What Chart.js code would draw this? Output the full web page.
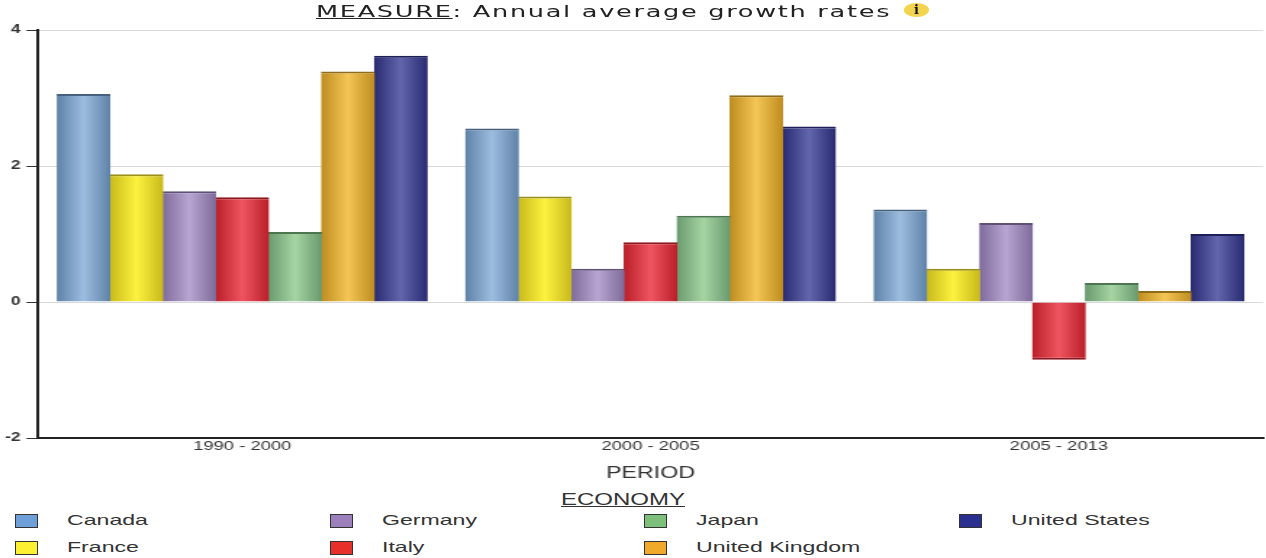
<!DOCTYPE html>
<html>
<head>
<meta charset="utf-8">
<title>Annual average growth rates</title>
<script src="https://cdn.jsdelivr.net/npm/chart.js@4"></script>
<style>
    html, body { margin: 0; background: #fff; overflow: hidden; }
    #page { position: relative; width: 1266px; height: 558px; }
    /* the chart is laid out narrow and widened, which gives the wide lettering */
    #chart { position: absolute; left: 0; top: 0; transform-origin: 0 0; }
    .wide { position: absolute; white-space: nowrap; color: #222; transform-origin: 0 0; }
    #title { left: 316px; top: 2px; font: 16px "DejaVu Sans"; letter-spacing: 1.06px; transform: scaleX(1.6); }
    #title u { text-decoration-thickness: 1px; }
    #info { left: 904px; top: 3px; width: 25px; height: 14px; border-radius: 50%; background: #f3d44f;
            font: bold 13px/14px "DejaVu Serif"; text-align: center; color: #111; }
    #legendTitle { left: 561px; top: 491px; font: 16px "Liberation Sans"; color: #333; transform: scaleX(1.5); text-decoration: underline; }
    #legend { position: absolute; left: 15px; top: 507px; display: grid; grid-auto-flow: column;
              grid-template-columns: repeat(4, 314.6px); grid-template-rows: repeat(2, 27px); }
    .item { position: relative; }
    .swatch { position: absolute; left: 0; top: 7px; width: 21px; height: 12px; border: 1.5px solid #333; }
    .name { position: absolute; left: 52px; top: 4px; white-space: nowrap; color: #333;
            font: 15px "Liberation Sans"; transform-origin: 0 0; transform: scaleX(1.54); }
</style>
</head>
<body>
<div id="page">
    <canvas id="chart"></canvas>
    <div id="title" class="wide"><u>MEASURE</u>: Annual average growth rates</div>
    <div id="info" class="wide">i</div>
    <div id="legendTitle" class="wide">ECONOMY</div>
    <div id="legend"></div>
</div>
<script>
var periods = ['1990 - 2000', '2000 - 2005', '2005 - 2013'];
var economies = ['Canada', 'France', 'Germany', 'Italy', 'Japan', 'United Kingdom', 'United States'];

var canada = [3.06, 2.55, 1.36];
var france = [1.88, 1.55, 0.49];
var germany = [1.63, 0.49, 1.16];
var italy = [1.54, 0.88, -0.85];
var japan = [1.03, 1.27, 0.28];
var unitedKingdom = [3.39, 3.04, 0.16];
var unitedStates = [3.62, 2.58, 1.00];
var seriesValues = [canada, france, germany, italy, japan, unitedKingdom, unitedStates];

// bar shading: edge colour, centre colour, top edge; plus the flat legend colour
var edgeColors = ['#5f83a8', '#c9ba1c', '#7f6c9c', '#bb2029', '#6a9b6f', '#bf8d20', '#2a2c72'];
var centerColors = ['#9dbde0', '#fdf23f', '#b8a5d2', '#ee5560', '#a6d5a3', '#f4c655', '#6266ad'];
var topColors = ['#46617e', '#99901a', '#5f5076', '#8a1a20', '#4c7650', '#8f6b18', '#1d1f58'];
var legendColors = ['#6f9fd8', '#fdf030', '#9b80bb', '#e8302a', '#7cc07c', '#f0a92a', '#2b2f8f'];

var groupShare = 0.906;
var stretch = 1.45;

document.addEventListener('DOMContentLoaded', function() {
    var canvas = document.getElementById('chart');
    canvas.width = Math.round(1266 / stretch);
    canvas.height = 483;
    canvas.style.transform = 'scaleX(' + (1266 / canvas.width) + ')';

    // horizontal cylinder shading across one bar
    function barGradient(ctx) {
        var x = ctx.chart.scales.x;
        if (ctx.type !== 'data' || !x || !ctx.chart.chartArea) return edgeColors[ctx.datasetIndex];
        var barWidth = x.width / periods.length * groupShare / economies.length;
        var left = x.getPixelForValue(ctx.dataIndex) - barWidth * economies.length / 2 + barWidth * ctx.datasetIndex;
        if (!isFinite(left)) return edgeColors[ctx.datasetIndex];
        var g = ctx.chart.ctx.createLinearGradient(left, 0, left + barWidth, 0);
        g.addColorStop(0, edgeColors[ctx.datasetIndex]);
        g.addColorStop(0.5, centerColors[ctx.datasetIndex]);
        g.addColorStop(1, edgeColors[ctx.datasetIndex]);
        return g;
    }

    var datasets = economies.map(function(name, i) {
        return {
            label: name,
            data: seriesValues[i],
            backgroundColor: barGradient,
            borderColor: topColors[i],
            borderSkipped: false,
            borderWidth: function(ctx) {
                var negative = ctx.raw < 0;
                return { top: negative ? 0 : 2, right: 0, bottom: negative ? 2 : 0, left: 0 };
            },
            categoryPercentage: groupShare,
            barPercentage: 1.02 // slight overlap so no white seam shows between bars
        };
    });

    new Chart(canvas, {
        type: 'bar',
        data: { labels: periods, datasets: datasets },
        options: {
            responsive: false,
            animation: false,
            layout: { padding: { top: 30, right: 2 } },
            plugins: { legend: { display: false }, tooltip: { enabled: false } },
            scales: {
                x: {
                    afterFit: function(scale) { scale.height = 45; },
                    border: { color: '#222', width: 2 },
                    grid: {
                        drawTicks: false,
                        // only the closing line on the right of the plot
                        color: function(ctx) { return ctx.index === periods.length ? '#d8d8d8' : 'rgba(0,0,0,0)'; }
                    },
                    ticks: { color: '#333', padding: 1, font: { family: 'Liberation Sans', size: 12.7 } },
                    title: {
                        display: true,
                        text: 'PERIOD',
                        color: '#333',
                        padding: { top: 0, bottom: 0 },
                        font: { family: 'Liberation Sans', size: 16 }
                    }
                },
                y: {
                    min: -2,
                    max: 4,
                    afterFit: function(scale) { scale.width = 38 / stretch; },
                    border: { color: '#222', width: 2 },
                    grid: { color: '#d8d8d8', tickColor: '#333', tickLength: 8 },
                    ticks: { stepSize: 2, color: '#333', padding: 4, font: { family: 'Liberation Sans', size: 12, weight: 'bold' } }
                }
            }
        }
    });

    // legend filled column by column
    var legend = document.getElementById('legend');
    economies.forEach(function(name, i) {
        var item = document.createElement('div');
        item.className = 'item';
        var swatch = document.createElement('div');
        swatch.className = 'swatch';
        swatch.style.background = legendColors[i];
        var label = document.createElement('div');
        label.className = 'name';
        label.textContent = name;
        item.appendChild(swatch);
        item.appendChild(label);
        legend.appendChild(item);
    });
});
</script>
</body>
</html>
